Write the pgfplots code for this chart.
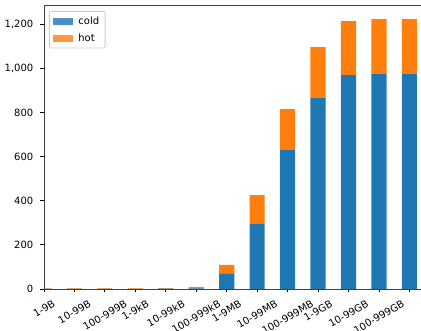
\documentclass[border=0pt]{standalone}
\usepackage{fontspec}
\setmainfont{DejaVu Sans}
\usepackage{graphicx}
\usepackage{pgfplots}
\pgfplotsset{compat=1.18}
\usepackage{pgfplotstable}
\definecolor{mplblue}{HTML}{1F77B4}
\definecolor{mplorange}{HTML}{FF7F0E}
\pgfplotstableread{
pos cold hot
0 0.5 2
1 0.5 2
2 0.5 2
3 0.5 2
4 2 2
5 3 5
6 71 38
7 295 131
8 630 186
9 868 229
10 970 245
11 975 249
12 975 249
}\datatable
\begin{document}
\begin{tikzpicture}
\path[use as bounding box, clip] (-44pt,-42pt) rectangle (377pt,289pt);
\begin{axis}[
  at={(0,0)}, anchor=south west,
  scale only axis, width=380.6pt, height=284pt,
  xmin=0, xmax=12.5, ymin=0, ymax=1288,
  ybar stacked, bar width=15.2pt,
  axis on top,
  xtick={0,...,12},
  xticklabels={\rotatebox{30}{1-9B},\rotatebox{30}{10-99B},\rotatebox{30}{100-999B},\rotatebox{30}{1-9kB},\rotatebox{30}{10-99kB},\rotatebox{30}{100-999kB},\rotatebox{30}{1-9MB},\rotatebox{30}{10-99MB},\rotatebox{30}{100-999MB},\rotatebox{30}{1-9GB},\rotatebox{30}{10-99GB},\rotatebox{30}{100-999GB},{}},
  ytick={0,200,...,1200},
  tick align=outside, major tick length=3.5pt,
  xtick pos=bottom, ytick pos=left,
  tick style={black, line width=0.8pt},
  axis line style={black!75, line width=0.8pt},
  every tick label/.append style={font=\fontsize{10}{12}\selectfont},
  xticklabel style={anchor=north, inner sep=0pt, yshift=-7pt},
  yticklabel style={anchor=east, inner sep=0pt, xshift=-7pt},
  /pgf/number format/1000 sep={,},
  /pgf/number format/assume math mode=true,
  scaled y ticks=false,
  legend style={at={(0,1)}, anchor=north west, xshift=5pt, yshift=-6pt,
    draw=black!20, line width=0.8pt, rounded corners=2pt, fill=white, fill opacity=0.8, text opacity=1,
    font=\fontsize{10}{12}\selectfont, row sep=2.5pt, inner xsep=3.5pt, inner ysep=3pt,
    nodes={inner sep=2.5pt}},
  legend cell align=left,
  legend image code/.code={\path (0pt,0pt) -- (23pt,0pt); \fill[#1, sharp corners] (0pt,-3.5pt) rectangle (20pt,3.5pt);},
]
\addplot[fill=mplblue, draw=none] table[x=pos, y=cold] {\datatable};
\addplot[fill=mplorange, draw=none] table[x=pos, y=hot] {\datatable};
\legend{cold, hot}
\end{axis}
\end{tikzpicture}
\end{document}
